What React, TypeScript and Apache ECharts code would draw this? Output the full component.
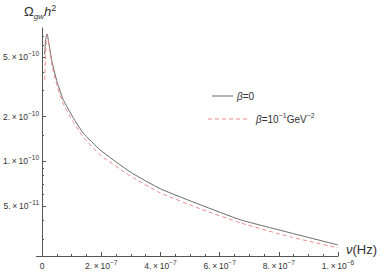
import React, { useEffect, useRef } from 'react';
import * as echarts from 'echarts';

// Frequency ν (Hz) and Ω_gw h²
const grayNu = [9e-9, 1.2e-8, 1.7e-8, 2.4e-8, 3.4e-8, 5.1e-8, 7.1e-8, 1.05e-7, 1.39e-7, 1.97e-7, 2.98e-7, 4.0e-7, 5.36e-7, 6.71e-7, 8.4e-7, 1.0e-6];
const grayOmega = [5.2e-10, 6.56e-10, 7.2e-10, 6.07e-10, 4.67e-10, 3.42e-10, 2.62e-10, 1.97e-10, 1.55e-10, 1.19e-10, 8.47e-11, 6.52e-11, 5.08e-11, 4.03e-11, 3.29e-11, 2.73e-11];
const redNu = [9e-9, 1.2e-8, 1.5e-8, 1.9e-8, 2.5e-8, 3.4e-8, 5.1e-8, 7.1e-8, 1.05e-7, 1.39e-7, 1.97e-7, 2.98e-7, 4.0e-7, 5.36e-7, 6.71e-7, 8.4e-7, 1.0e-6];
const redOmega = [3.53e-10, 5.04e-10, 6.56e-10, 6.98e-10, 5.79e-10, 4.38e-10, 3.21e-10, 2.46e-10, 1.85e-10, 1.46e-10, 1.1e-10, 7.96e-11, 6.12e-11, 4.77e-11, 3.84e-11, 3.09e-11, 2.61e-11];

const xMajorTicks = [0, 2e-7, 4e-7, 6e-7, 8e-7, 1e-6];
const xMinorTicks = [5e-8, 1e-7, 1.5e-7, 2.5e-7, 3e-7, 3.5e-7, 4.5e-7, 5e-7, 5.5e-7, 6.5e-7, 7e-7, 7.5e-7, 8.5e-7, 9e-7, 9.5e-7];
const yMajorTicks = [5e-11, 1e-10, 2e-10, 5e-10];
const yMinorTicks = [3e-11, 4e-11, 6e-11, 7e-11, 8e-11, 9e-11, 1.5e-10, 3e-10, 4e-10, 6e-10, 7e-10];

const FONT = 'Liberation Sans, Arial, sans-serif';
const AXIS = '#555';
const LABEL = '#333';

const sciLabel = (v: number) => {
  if (v === 0) return '{m|0}';
  const e = Math.floor(Math.log10(v) + 1e-9);
  const m = Math.round(v / Math.pow(10, e));
  return `{m|${m}.\u2009×\u200910}{s|−${-e}}`;
};

const labelRich = {
  m: { fontSize: 8.5, lineHeight: 14, color: LABEL, fontFamily: FONT },
  s: { fontSize: 6.5, lineHeight: 6, color: LABEL, fontFamily: FONT, verticalAlign: 'top' },
};

export default function App() {
  const ref = useRef<HTMLDivElement>(null);
  useEffect(() => {
    document.body.style.margin = '0';
    const chart = echarts.init(ref.current!, undefined, { renderer: 'svg' });
    const xMin = 0, xMax = 1e-6, yMin = 2.3e-11, yMax = 7.9e-10;
    chart.setOption({
      animation: false,
      backgroundColor: '#fff',
      grid: { left: 42, right: 44, top: 28, bottom: 17, containLabel: false, outerBoundsMode: 'none' },
      xAxis: [
        {
          type: 'value', min: xMin, max: xMax, position: 'bottom',
          axisLine: { onZero: false, lineStyle: { color: AXIS, width: 1 } },
          axisTick: { inside: true, length: 4, customValues: xMajorTicks, lineStyle: { color: AXIS } },
          axisLabel: { customValues: xMajorTicks, formatter: sciLabel, rich: labelRich, margin: 3 },
          splitLine: { show: false },
        },
        {
          type: 'value', min: xMin, max: xMax, position: 'bottom',
          axisLine: { show: false, onZero: false },
          axisTick: { inside: true, length: 2, customValues: xMinorTicks, lineStyle: { color: AXIS } },
          axisLabel: { show: false },
          splitLine: { show: false },
        },
      ],
      yAxis: [
        {
          type: 'log', min: yMin, max: yMax, position: 'left',
          axisLine: { onZero: false, lineStyle: { color: AXIS, width: 1 } },
          axisTick: { inside: true, length: 4, customValues: yMajorTicks, lineStyle: { color: AXIS } },
          axisLabel: { customValues: yMajorTicks, formatter: sciLabel, rich: labelRich, margin: 3 },
          splitLine: { show: false },
        },
        {
          type: 'log', min: yMin, max: yMax, position: 'left',
          axisLine: { show: false, onZero: false },
          axisTick: { inside: true, length: 2, customValues: yMinorTicks, lineStyle: { color: AXIS } },
          axisLabel: { show: false },
          splitLine: { show: false },
        },
      ],
      series: [
        {
          type: 'line', name: 'β=0', xAxisIndex: 0, yAxisIndex: 0,
          data: grayNu.map((v, i) => [v, grayOmega[i]]),
          showSymbol: false, smooth: 0.15,
          lineStyle: { color: '#6a6a6a', width: 1 },
        },
        {
          type: 'line', name: 'β=10^-1', xAxisIndex: 0, yAxisIndex: 0,
          data: redNu.map((v, i) => [v, redOmega[i]]),
          showSymbol: false, smooth: 0.15,
          lineStyle: { color: '#f08a8a', width: 1, type: [4, 3] },
        },
      ],
      graphic: [
        // short stub of the ν axis to the left of the origin
        { type: 'line', shape: { x1: 36, y1: 256.5, x2: 42, y2: 256.5 }, style: { stroke: AXIS, lineWidth: 1 } },
        {
          type: 'text', left: 24, top: 3,
          style: {
            text: '{o|Ω}{sub|gw}{i|h}{sup|2}',
            fill: LABEL,
            rich: {
              o: { fontSize: 13, lineHeight: 17, fontFamily: FONT, fill: LABEL },
              sub: { fontSize: 8, lineHeight: 6, fontFamily: FONT, fontStyle: 'italic', verticalAlign: 'bottom', fill: LABEL },
              i: { fontSize: 13, lineHeight: 17, fontFamily: FONT, fontStyle: 'italic', fill: LABEL },
              sup: { fontSize: 9, lineHeight: 6, fontFamily: FONT, verticalAlign: 'top', fill: LABEL },
            },
          },
        },
        {
          type: 'text', left: 346, top: 243,
          style: {
            text: '{i|ν}{n|(Hz)}',
            rich: {
              i: { fontSize: 13, lineHeight: 17, fontFamily: FONT, fontStyle: 'italic', fill: LABEL },
              n: { fontSize: 13, lineHeight: 17, fontFamily: FONT, fill: LABEL },
            },
          },
        },
        { type: 'line', shape: { x1: 212, y1: 96, x2: 233, y2: 96 }, style: { stroke: '#6a6a6a', lineWidth: 1 } },
        {
          type: 'text', x: 237, y: 96,
          style: {
            text: '{i|β}{n|=0}', verticalAlign: 'middle',
            rich: {
              i: { fontSize: 10, lineHeight: 14, fontFamily: FONT, fontStyle: 'italic', fill: LABEL },
              n: { fontSize: 10, lineHeight: 14, fontFamily: FONT, fill: LABEL },
            },
          },
        },
        { type: 'line', shape: { x1: 208, y1: 119, x2: 248, y2: 119 }, style: { stroke: '#f08a8a', lineWidth: 1, lineDash: [4, 3] } },
        {
          type: 'text', x: 256, y: 119,
          style: {
            text: '{i|β}{n|=10}{s|−1}{n|GeV}{s|−2}', verticalAlign: 'middle',
            rich: {
              i: { fontSize: 10, lineHeight: 14, fontFamily: FONT, fontStyle: 'italic', fill: LABEL },
              n: { fontSize: 10, lineHeight: 14, fontFamily: FONT, fill: LABEL },
              s: { fontSize: 7, lineHeight: 6, fontFamily: FONT, verticalAlign: 'top', fill: LABEL },
            },
          },
        },
      ],
    });
    return () => chart.dispose();
  }, []);
  return <div ref={ref} style={{ position: 'fixed', left: 0, top: 0, width: 382, height: 273 }} />;
}
